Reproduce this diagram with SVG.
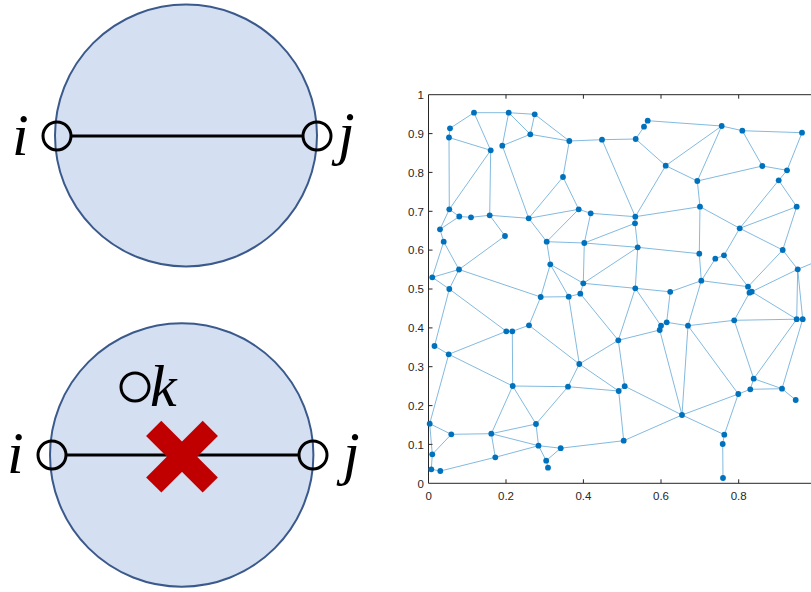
<svg xmlns="http://www.w3.org/2000/svg" width="811" height="592" viewBox="0 0 811 592">
<style>
.big{fill:#d5dff2;stroke:#3b5a8c;stroke-width:2}
.pt{fill:none;stroke:#000;stroke-width:3}
.seg{stroke:#000;stroke-width:3}
.lbl{font-family:"Liberation Serif","DejaVu Serif",serif;font-style:italic;font-size:60px;fill:#000}
.ax{stroke:#262626;stroke-width:1;fill:none}
.tk{font-family:"Liberation Sans",Arial,sans-serif;font-size:11.5px;fill:#262626}
.e line{stroke:#0072BD;stroke-width:0.9;stroke-opacity:0.55}
.nd{fill:#0072BD}
</style>
<rect width="811" height="592" fill="#fff"/>
<!-- upper illustration -->
<g id="circle-top"><circle class="big" cx="186" cy="135.5" r="131"/></g>
<g id="edge-top"><line class="seg" x1="71" y1="136" x2="302" y2="136"/></g>
<g id="node-i-top"><circle class="pt" cx="57" cy="136" r="14"/><text class="lbl" x="12" y="155">i</text></g>
<g id="node-j-top"><circle class="pt" cx="317" cy="136" r="14"/><text class="lbl" x="338" y="153">j</text></g>
<!-- lower illustration -->
<g id="circle-bottom"><circle class="big" cx="181.7" cy="455" r="131.7"/></g>
<g id="edge-bottom"><line class="seg" x1="66" y1="455" x2="298" y2="455"/></g>
<g id="node-i-bottom"><circle class="pt" cx="52" cy="455" r="14"/><text class="lbl" x="7" y="473">i</text></g>
<g id="node-j-bottom"><circle class="pt" cx="313" cy="455" r="14"/><text class="lbl" x="343" y="473">j</text></g>
<g id="node-k"><circle class="pt" cx="135" cy="387" r="14"/><text class="lbl" x="150" y="406">k</text></g>
<g id="cross" fill="#c00000">
<rect x="142" y="446" width="80" height="21.5" transform="rotate(45 182 456.7)"/>
<rect x="142" y="446" width="80" height="21.5" transform="rotate(-45 182 456.7)"/>
</g>
<!-- plot axes -->
<g id="axes">
<path class="ax" d="M428.5,94.7 V483.3 H811 M428.5,94.7 H811"/>
<path class="ax" d="M428.5,444.4h4M428.5,405.6h4M428.5,366.7h4M428.5,327.9h4M428.5,289h4M428.5,250.1h4M428.5,211.3h4M428.5,172.4h4M428.5,133.6h4M506,483.3v-4M583.4,483.3v-4M661,483.3v-4M738.7,483.3v-4M506,94.7v4M583.4,94.7v4M661,94.7v4M738.7,94.7v4"/>
<g class="tk" text-anchor="end">
<text x="424" y="487.5">0</text><text x="424" y="448.6">0.1</text><text x="424" y="409.8">0.2</text><text x="424" y="370.9">0.3</text><text x="424" y="332.1">0.4</text><text x="424" y="293.2">0.5</text><text x="424" y="254.3">0.6</text><text x="424" y="215.5">0.7</text><text x="424" y="176.6">0.8</text><text x="424" y="137.8">0.9</text><text x="424" y="98.9">1</text>
</g>
<g class="tk" text-anchor="middle">
<text x="428.6" y="500">0</text><text x="506" y="500">0.2</text><text x="583.4" y="500">0.4</text><text x="661" y="500">0.6</text><text x="738.7" y="500">0.8</text>
</g>
</g>
<g id="connectors" class="e">
<line x1="474" y1="112.7" x2="508.7" y2="112.7"/><line x1="508.7" y1="112.7" x2="534.7" y2="114.3"/><line x1="474" y1="112.7" x2="450" y2="128.3"/><line x1="474" y1="112.7" x2="490.7" y2="150.3"/><line x1="508.7" y1="112.7" x2="502.3" y2="145.7"/><line x1="508.7" y1="112.7" x2="530.3" y2="134.3"/><line x1="534.7" y1="114.3" x2="530.3" y2="134.3"/><line x1="534.7" y1="114.3" x2="569.3" y2="141"/><line x1="530.3" y1="134.3" x2="502.3" y2="145.7"/><line x1="530.3" y1="134.3" x2="569.3" y2="141"/><line x1="449" y1="137.5" x2="490.7" y2="150.3"/><line x1="449" y1="137.5" x2="449.3" y2="209.3"/><line x1="450" y1="128.3" x2="449" y2="137.5"/><line x1="490.7" y1="150.3" x2="449.3" y2="209.3"/><line x1="490.7" y1="150.3" x2="489.7" y2="215.3"/><line x1="502.3" y1="145.7" x2="528.7" y2="218.3"/><line x1="569.3" y1="141" x2="602" y2="139.7"/><line x1="569.3" y1="141" x2="563" y2="177"/><line x1="602" y1="139.7" x2="635.7" y2="139"/><line x1="602" y1="139.7" x2="635.3" y2="216.7"/><line x1="563" y1="177" x2="528.7" y2="218.3"/><line x1="563" y1="177" x2="578.7" y2="209.3"/><line x1="449.3" y1="209.3" x2="440" y2="229.3"/><line x1="449.3" y1="209.3" x2="459.3" y2="216.5"/><line x1="459.3" y1="216.5" x2="471" y2="217.3"/><line x1="471" y1="217.3" x2="489.7" y2="215.3"/><line x1="459.3" y1="216.5" x2="440" y2="229.3"/><line x1="489.7" y1="215.3" x2="528.7" y2="218.3"/><line x1="489.7" y1="215.3" x2="505" y2="236"/><line x1="528.7" y1="218.3" x2="578.7" y2="209.3"/><line x1="528.7" y1="218.3" x2="546.7" y2="241.7"/><line x1="505" y1="236" x2="459" y2="269.5"/><line x1="578.7" y1="209.3" x2="546.7" y2="241.7"/><line x1="578.7" y1="209.3" x2="590.7" y2="213.3"/><line x1="590.7" y1="213.3" x2="584.3" y2="243"/><line x1="590.7" y1="213.3" x2="635.3" y2="216.7"/><line x1="440" y1="229.3" x2="443.7" y2="241.7"/><line x1="443.7" y1="241.7" x2="459" y2="269.5"/><line x1="443.7" y1="241.7" x2="432.3" y2="277.3"/><line x1="432.3" y1="277.3" x2="459" y2="269.5"/><line x1="432.3" y1="277.3" x2="449.3" y2="289"/><line x1="449.3" y1="289" x2="459" y2="269.5"/><line x1="459" y1="269.5" x2="540.7" y2="297"/><line x1="546.7" y1="241.7" x2="550.3" y2="264.3"/><line x1="546.7" y1="241.7" x2="584.3" y2="243"/><line x1="584.3" y1="243" x2="637.7" y2="247.3"/><line x1="584.3" y1="243" x2="635" y2="223.3"/><line x1="584.3" y1="243" x2="583.3" y2="283.3"/><line x1="550.3" y1="264.3" x2="583.3" y2="283.3"/><line x1="550.3" y1="264.3" x2="540.7" y2="297"/><line x1="550.3" y1="264.3" x2="568.7" y2="296.7"/><line x1="583.3" y1="283.3" x2="635.3" y2="288.3"/><line x1="583.3" y1="283.3" x2="637.7" y2="247.3"/><line x1="583.3" y1="283.3" x2="580.3" y2="293.7"/><line x1="568.7" y1="296.7" x2="580.3" y2="293.7"/><line x1="540.7" y1="297" x2="568.7" y2="296.7"/><line x1="540.7" y1="297" x2="529" y2="325.3"/><line x1="568.7" y1="296.7" x2="579.3" y2="364"/><line x1="580.3" y1="293.7" x2="618.3" y2="340.3"/><line x1="449.3" y1="289" x2="434.5" y2="346"/><line x1="449.3" y1="289" x2="506.3" y2="331.3"/><line x1="434.5" y1="346" x2="448.7" y2="354.3"/><line x1="448.7" y1="354.3" x2="506.3" y2="331.3"/><line x1="448.7" y1="354.3" x2="512.7" y2="386"/><line x1="448.7" y1="354.3" x2="429.7" y2="423.7"/><line x1="506.3" y1="331.3" x2="512.3" y2="331.3"/><line x1="512.3" y1="331.3" x2="529" y2="325.3"/><line x1="512.3" y1="331.3" x2="512.7" y2="386"/><line x1="529" y1="325.3" x2="579.3" y2="364"/><line x1="512.7" y1="386" x2="568" y2="386.7"/><line x1="512.7" y1="386" x2="491.3" y2="433.7"/><line x1="512.7" y1="386" x2="536" y2="424"/><line x1="568" y1="386.7" x2="579.3" y2="364"/><line x1="568" y1="386.7" x2="536" y2="424"/><line x1="568" y1="386.7" x2="618.7" y2="391"/><line x1="579.3" y1="364" x2="618.3" y2="340.3"/><line x1="579.3" y1="364" x2="618.7" y2="391"/><line x1="618.3" y1="340.3" x2="635.3" y2="288.3"/><line x1="618.3" y1="340.3" x2="659.7" y2="330"/><line x1="618.3" y1="340.3" x2="624.7" y2="386.2"/><line x1="618.7" y1="391" x2="624.7" y2="386.2"/><line x1="618.7" y1="391" x2="623.7" y2="440.7"/><line x1="624.7" y1="386.2" x2="682" y2="415"/><line x1="429.7" y1="423.7" x2="451.3" y2="434.3"/><line x1="429.7" y1="423.7" x2="432.3" y2="454.3"/><line x1="451.3" y1="434.3" x2="432.3" y2="454.3"/><line x1="451.3" y1="434.3" x2="491.3" y2="433.7"/><line x1="491.3" y1="433.7" x2="536" y2="424"/><line x1="491.3" y1="433.7" x2="495.3" y2="457.3"/><line x1="491.3" y1="433.7" x2="538.5" y2="445.7"/><line x1="536" y1="424" x2="538.5" y2="445.7"/><line x1="538.5" y1="445.7" x2="495.3" y2="457.3"/><line x1="538.5" y1="445.7" x2="546.2" y2="460.7"/><line x1="538.5" y1="445.7" x2="560.7" y2="448.2"/><line x1="546.2" y1="460.7" x2="560.7" y2="448.2"/><line x1="546.2" y1="460.7" x2="548" y2="467.7"/><line x1="560.7" y1="448.2" x2="623.7" y2="440.7"/><line x1="432.3" y1="454.3" x2="431.3" y2="469.3"/><line x1="431.3" y1="469.3" x2="440.3" y2="471"/><line x1="440.3" y1="471" x2="495.3" y2="457.3"/><line x1="647.7" y1="120.7" x2="644" y2="126.7"/><line x1="644" y1="126.7" x2="635.7" y2="139"/><line x1="647.7" y1="120.7" x2="721.7" y2="126"/><line x1="721.7" y1="126" x2="742.3" y2="130.7"/><line x1="742.3" y1="130.7" x2="802" y2="132.7"/><line x1="721.7" y1="126" x2="665.7" y2="165.7"/><line x1="721.7" y1="126" x2="697.3" y2="181"/><line x1="635.7" y1="139" x2="665.7" y2="165.7"/><line x1="665.7" y1="165.7" x2="697.3" y2="181"/><line x1="665.7" y1="165.7" x2="635.3" y2="216.7"/><line x1="742.3" y1="130.7" x2="762.3" y2="166"/><line x1="802" y1="132.7" x2="787" y2="170.3"/><line x1="762.3" y1="166" x2="787" y2="170.3"/><line x1="697.3" y1="181" x2="762.3" y2="166"/><line x1="697.3" y1="181" x2="700" y2="206.7"/><line x1="787" y1="170.3" x2="778.7" y2="180.3"/><line x1="778.7" y1="180.3" x2="739.7" y2="228.3"/><line x1="778.7" y1="180.3" x2="796.7" y2="206.7"/><line x1="700" y1="206.7" x2="635.3" y2="216.7"/><line x1="700" y1="206.7" x2="739.7" y2="228.3"/><line x1="700" y1="206.7" x2="699.3" y2="253.7"/><line x1="796.7" y1="206.7" x2="739.7" y2="228.3"/><line x1="796.7" y1="206.7" x2="782.7" y2="250"/><line x1="635.3" y1="216.7" x2="635" y2="223.3"/><line x1="635" y1="223.3" x2="637.7" y2="247.3"/><line x1="637.7" y1="247.3" x2="699.3" y2="253.7"/><line x1="637.7" y1="247.3" x2="635.3" y2="288.3"/><line x1="739.7" y1="228.3" x2="724" y2="255.3"/><line x1="739.7" y1="228.3" x2="782.7" y2="250"/><line x1="724" y1="255.3" x2="715.3" y2="258.7"/><line x1="715.3" y1="258.7" x2="701.3" y2="280.7"/><line x1="724" y1="255.3" x2="748" y2="286.7"/><line x1="782.7" y1="250" x2="797.7" y2="269.3"/><line x1="782.7" y1="250" x2="748" y2="286.7"/><line x1="797.7" y1="269.3" x2="825" y2="258"/><line x1="699.3" y1="253.7" x2="701.3" y2="280.7"/><line x1="701.3" y1="280.7" x2="748" y2="286.7"/><line x1="701.3" y1="280.7" x2="670.2" y2="291.8"/><line x1="701.3" y1="280.7" x2="688" y2="325.7"/><line x1="797.7" y1="269.3" x2="796.7" y2="319.2"/><line x1="797.7" y1="269.3" x2="802.7" y2="319.2"/><line x1="797.7" y1="269.3" x2="751.7" y2="291.7"/><line x1="748" y1="286.7" x2="749.5" y2="292.7"/><line x1="749.5" y1="292.7" x2="751.7" y2="291.7"/><line x1="635.3" y1="288.3" x2="670.2" y2="291.8"/><line x1="635.3" y1="288.3" x2="661" y2="325.7"/><line x1="670.2" y1="291.8" x2="666.7" y2="322.3"/><line x1="666.7" y1="322.3" x2="661" y2="325.7"/><line x1="661" y1="325.7" x2="659.7" y2="330"/><line x1="666.7" y1="322.3" x2="688" y2="325.7"/><line x1="659.7" y1="330" x2="682" y2="415"/><line x1="688" y1="325.7" x2="682" y2="415"/><line x1="688" y1="325.7" x2="738.3" y2="394"/><line x1="688" y1="325.7" x2="734.2" y2="320.3"/><line x1="734.2" y1="320.3" x2="749.5" y2="292.7"/><line x1="734.2" y1="320.3" x2="796.7" y2="319.2"/><line x1="734.2" y1="320.3" x2="753.7" y2="378.7"/><line x1="751.7" y1="291.7" x2="796.7" y2="319.2"/><line x1="796.7" y1="319.2" x2="802.7" y2="319.2"/><line x1="796.7" y1="319.2" x2="753.7" y2="378.7"/><line x1="802.7" y1="319.2" x2="782" y2="388.7"/><line x1="753.7" y1="378.7" x2="782" y2="388.7"/><line x1="753.7" y1="378.7" x2="750.3" y2="389.3"/><line x1="750.3" y1="389.3" x2="782" y2="388.7"/><line x1="750.3" y1="389.3" x2="738.3" y2="394"/><line x1="782" y1="388.7" x2="795.7" y2="400"/><line x1="738.3" y1="394" x2="682" y2="415"/><line x1="738.3" y1="394" x2="724.3" y2="434.7"/><line x1="682" y1="415" x2="724.3" y2="434.7"/><line x1="682" y1="415" x2="623.7" y2="440.7"/><line x1="724.3" y1="434.7" x2="722.7" y2="444"/><line x1="722.7" y1="444" x2="723" y2="478"/>
</g>
<g id="nodes" class="nd">
<g id="n1"><circle cx="474" cy="112.7" r="2.9"/></g><g id="n2"><circle cx="508.7" cy="112.7" r="2.9"/></g><g id="n3"><circle cx="534.7" cy="114.3" r="2.9"/></g><g id="n4"><circle cx="450" cy="128.3" r="2.9"/></g><g id="n5"><circle cx="449" cy="137.5" r="2.9"/></g><g id="n6"><circle cx="530.3" cy="134.3" r="2.9"/></g><g id="n7"><circle cx="490.7" cy="150.3" r="2.9"/></g><g id="n8"><circle cx="502.3" cy="145.7" r="2.9"/></g><g id="n9"><circle cx="569.3" cy="141" r="2.9"/></g><g id="n10"><circle cx="602" cy="139.7" r="2.9"/></g>
<g id="n11"><circle cx="563" cy="177" r="2.9"/></g><g id="n12"><circle cx="449.3" cy="209.3" r="2.9"/></g><g id="n13"><circle cx="459.3" cy="216.5" r="2.9"/></g><g id="n14"><circle cx="471" cy="217.3" r="2.9"/></g><g id="n15"><circle cx="489.7" cy="215.3" r="2.9"/></g><g id="n16"><circle cx="528.7" cy="218.3" r="2.9"/></g><g id="n17"><circle cx="578.7" cy="209.3" r="2.9"/></g><g id="n18"><circle cx="590.7" cy="213.3" r="2.9"/></g><g id="n19"><circle cx="440" cy="229.3" r="2.9"/></g><g id="n20"><circle cx="443.7" cy="241.7" r="2.9"/></g>
<g id="n21"><circle cx="505" cy="236" r="2.9"/></g><g id="n22"><circle cx="546.7" cy="241.7" r="2.9"/></g><g id="n23"><circle cx="584.3" cy="243" r="2.9"/></g><g id="n24"><circle cx="459" cy="269.5" r="2.9"/></g><g id="n25"><circle cx="550.3" cy="264.3" r="2.9"/></g><g id="n26"><circle cx="432.3" cy="277.3" r="2.9"/></g><g id="n27"><circle cx="583.3" cy="283.3" r="2.9"/></g><g id="n28"><circle cx="449.3" cy="289" r="2.9"/></g><g id="n29"><circle cx="647.7" cy="120.7" r="2.9"/></g><g id="n30"><circle cx="644" cy="126.7" r="2.9"/></g>
<g id="n31"><circle cx="635.7" cy="139" r="2.9"/></g><g id="n32"><circle cx="721.7" cy="126" r="2.9"/></g><g id="n33"><circle cx="742.3" cy="130.7" r="2.9"/></g><g id="n34"><circle cx="802" cy="132.7" r="2.9"/></g><g id="n35"><circle cx="665.7" cy="165.7" r="2.9"/></g><g id="n36"><circle cx="697.3" cy="181" r="2.9"/></g><g id="n37"><circle cx="762.3" cy="166" r="2.9"/></g><g id="n38"><circle cx="787" cy="170.3" r="2.9"/></g><g id="n39"><circle cx="778.7" cy="180.3" r="2.9"/></g><g id="n40"><circle cx="700" cy="206.7" r="2.9"/></g>
<g id="n41"><circle cx="796.7" cy="206.7" r="2.9"/></g><g id="n42"><circle cx="635.3" cy="216.7" r="2.9"/></g><g id="n43"><circle cx="635" cy="223.3" r="2.9"/></g><g id="n44"><circle cx="739.7" cy="228.3" r="2.9"/></g><g id="n45"><circle cx="637.7" cy="247.3" r="2.9"/></g><g id="n46"><circle cx="699.3" cy="253.7" r="2.9"/></g><g id="n47"><circle cx="715.3" cy="258.7" r="2.9"/></g><g id="n48"><circle cx="724" cy="255.3" r="2.9"/></g><g id="n49"><circle cx="782.7" cy="250" r="2.9"/></g><g id="n50"><circle cx="797.7" cy="269.3" r="2.9"/></g>
<g id="n51"><circle cx="701.3" cy="280.7" r="2.9"/></g><g id="n52"><circle cx="748" cy="286.7" r="2.9"/></g><g id="n53"><circle cx="635.3" cy="288.3" r="2.9"/></g><g id="n54"><circle cx="540.7" cy="297" r="2.9"/></g><g id="n55"><circle cx="568.7" cy="296.7" r="2.9"/></g><g id="n56"><circle cx="580.3" cy="293.7" r="2.9"/></g><g id="n57"><circle cx="506.3" cy="331.3" r="2.9"/></g><g id="n58"><circle cx="512.3" cy="331.3" r="2.9"/></g><g id="n59"><circle cx="529" cy="325.3" r="2.9"/></g><g id="n60"><circle cx="434.5" cy="346" r="2.9"/></g>
<g id="n61"><circle cx="448.7" cy="354.3" r="2.9"/></g><g id="n62"><circle cx="618.3" cy="340.3" r="2.9"/></g><g id="n63"><circle cx="579.3" cy="364" r="2.9"/></g><g id="n64"><circle cx="512.7" cy="386" r="2.9"/></g><g id="n65"><circle cx="568" cy="386.7" r="2.9"/></g><g id="n66"><circle cx="618.7" cy="391" r="2.9"/></g><g id="n67"><circle cx="429.7" cy="423.7" r="2.9"/></g><g id="n68"><circle cx="536" cy="424" r="2.9"/></g><g id="n69"><circle cx="451.3" cy="434.3" r="2.9"/></g><g id="n70"><circle cx="491.3" cy="433.7" r="2.9"/></g>
<g id="n71"><circle cx="538.5" cy="445.7" r="2.9"/></g><g id="n72"><circle cx="560.7" cy="448.2" r="2.9"/></g><g id="n73"><circle cx="432.3" cy="454.3" r="2.9"/></g><g id="n74"><circle cx="495.3" cy="457.3" r="2.9"/></g><g id="n75"><circle cx="546.2" cy="460.7" r="2.9"/></g><g id="n76"><circle cx="431.3" cy="469.3" r="2.9"/></g><g id="n77"><circle cx="440.3" cy="471" r="2.9"/></g><g id="n78"><circle cx="548" cy="467.7" r="2.9"/></g><g id="n79"><circle cx="670.2" cy="291.8" r="2.9"/></g><g id="n80"><circle cx="749.5" cy="292.7" r="2.9"/></g>
<g id="n81"><circle cx="751.7" cy="291.7" r="2.9"/></g><g id="n82"><circle cx="666.7" cy="322.3" r="2.9"/></g><g id="n83"><circle cx="661" cy="325.7" r="2.9"/></g><g id="n84"><circle cx="659.7" cy="330" r="2.9"/></g><g id="n85"><circle cx="688" cy="325.7" r="2.9"/></g><g id="n86"><circle cx="734.2" cy="320.3" r="2.9"/></g><g id="n87"><circle cx="796.7" cy="319.2" r="2.9"/></g><g id="n88"><circle cx="802.7" cy="319.2" r="2.9"/></g><g id="n89"><circle cx="753.7" cy="378.7" r="2.9"/></g><g id="n90"><circle cx="750.3" cy="389.3" r="2.9"/></g>
<g id="n91"><circle cx="782" cy="388.7" r="2.9"/></g><g id="n92"><circle cx="795.7" cy="400" r="2.9"/></g><g id="n93"><circle cx="624.7" cy="386.2" r="2.9"/></g><g id="n94"><circle cx="738.3" cy="394" r="2.9"/></g><g id="n95"><circle cx="682" cy="415" r="2.9"/></g><g id="n96"><circle cx="724.3" cy="434.7" r="2.9"/></g><g id="n97"><circle cx="623.7" cy="440.7" r="2.9"/></g><g id="n98"><circle cx="722.7" cy="444" r="2.9"/></g><g id="n99"><circle cx="723" cy="478" r="2.9"/></g>
</g>
</svg>
